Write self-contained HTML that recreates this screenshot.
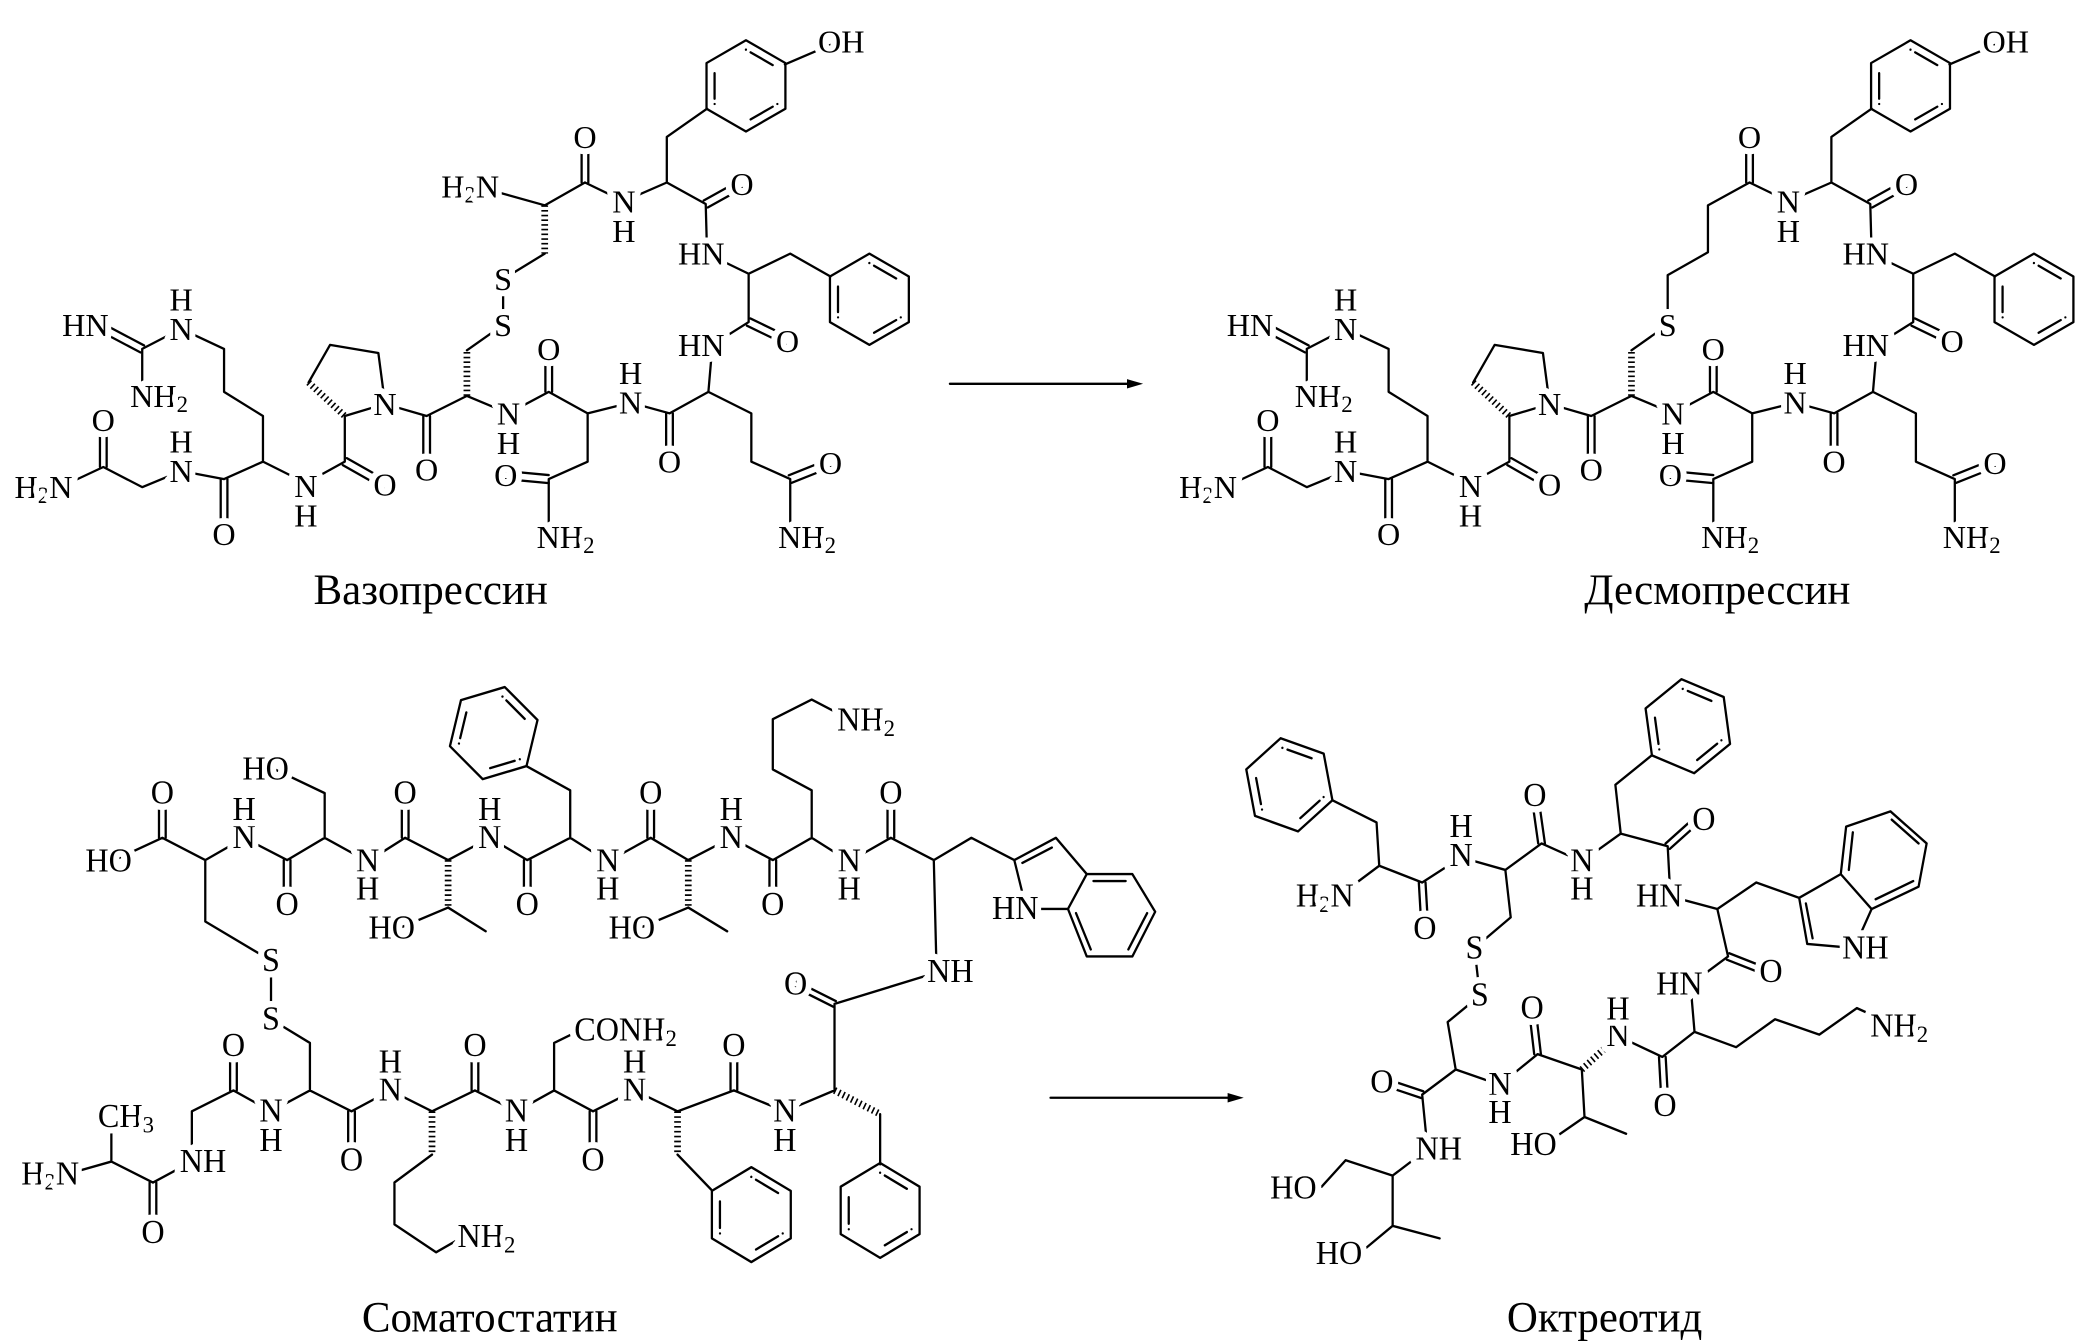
<!DOCTYPE html>
<html><head><meta charset="utf-8"><style>
html,body{margin:0;padding:0;background:#fff}
svg{display:block}
.b{stroke:#000;stroke-width:1.7;fill:none;stroke-linejoin:round;stroke-linecap:round}
.h{stroke:#000;stroke-width:5;stroke-dasharray:1.2 2.3;fill:none}
text{font-family:"Liberation Serif",serif;font-size:24px;fill:#000;text-anchor:middle;dominant-baseline:central;paint-order:stroke;stroke:#fff;stroke-width:9px;stroke-linejoin:round}
.e{text-anchor:end}.s{text-anchor:start}
.lbl{font-size:32px;stroke-width:0}
</style></head><body>
<svg width="2093" height="1342" viewBox="0 0 1560 1000" preserveAspectRatio="none" xmlns="http://www.w3.org/2000/svg">
<defs>
<g id="bz"><polygon points="0,-34 29.4,-17 29.4,17 0,34 -29.4,17 -29.4,-17"/><polygon points="0,-27 23.4,-13.5 23.4,13.5 0,27 -23.4,13.5 -23.4,-13.5" stroke-dasharray="0 4 19 31"/></g>
<g id="vc">
<g class="b">
<path d="M436,136 L465,150 L497,136 L497,102 L527,81 M585,48 L620,33 M497,136 L526,152 L527,189 L558,204 L589,189 L619,206 M558,204 L558,240 L531,257 L528,292 L560,308 L560,344 L589,357 L589,395 M528,292 L499,308 L470,300 L438,308 L438,344 L409,357 L409,395 M438,308 L409,292 L379,308 L348,295 L318,310 L287,301 M348,261 L375,242 M287,301 L282,263 L246,257 L230,285 M257,310 L287,301 M257,310 L257,344 L228,360 L196,344 L196,310 L167,292 L167,260 L135,245 L106,260 L106,290 M196,344 L167,357 L135,351 L106,363 L77,348 L45,363"/>
<path d="M433.5,136 L433.5,104 M438.5,136 L438.5,104 M524.5,149.4 L551.5,134.4 M527.5,154.6 L554.5,139.6 M556.7,242.7 L585.7,256.7 M559.3,237.3 L588.3,251.3 M590.1,359.8 L620.1,347.8 M587.9,354.2 L617.9,342.2 M496.5,308 L496.5,344 M501.5,308 L501.5,344 M409,354 L377,351 M409,360 L377,357 M406.5,292 L406.5,260 M411.5,292 L411.5,260 M315.5,310 L315.5,350 M320.5,310 L320.5,350 M255.5,346.6 L285.5,363.6 M258.5,341.4 L288.5,358.4 M107.4,257.4 L73.4,239.4 M104.6,262.6 L70.6,244.6 M164.5,357 L164.5,398 M169.5,357 L169.5,398 M74.5,348 L74.5,313 M79.5,348 L79.5,313"/>
<use href="#bz" transform="translate(556,64)"/>
<use href="#bz" transform="translate(648,223)"/>
</g>
<path class="h" d="M348,295 L348,261 M230,285 L257,310"/>
</g>
</defs>

<!-- Vasopressin -->
<use href="#vc"/>
<path class="b" d="M363,141 L406,153 L436,136 M406,189 L375,208 L375,242"/>
<path class="h" d="M406,153 L406,189"/>
<g>
<text x="627" y="31">OH</text>
<text x="436" y="102">O</text><text x="553" y="137">O</text><text x="587" y="254">O</text><text x="619" y="345">O</text><text x="499" y="344">O</text><text x="377" y="354">O</text><text x="409" y="260">O</text><text x="318" y="350">O</text><text x="287" y="361">O</text><text x="167" y="398">O</text><text x="77" y="313">O</text>
<text x="465" y="150">N</text><text x="465" y="172">H</text>
<text class="e" x="540" y="189">HN</text><text class="e" x="540" y="257">HN</text>
<text class="s" x="580" y="400">NH<tspan font-size="17" dy="6">2</tspan></text>
<text x="470" y="300">N</text><text x="470" y="278">H</text>
<text class="s" x="400" y="400">NH<tspan font-size="17" dy="6">2</tspan></text>
<text x="379" y="308">N</text><text x="379" y="330">H</text>
<text x="287" y="301">N</text>
<text x="228" y="362">N</text><text x="228" y="384">H</text>
<text x="135" y="245">N</text><text x="135" y="223">H</text>
<text class="e" x="81" y="242">HN</text>
<text class="s" x="97" y="295">NH<tspan font-size="17" dy="6">2</tspan></text>
<text x="135" y="351">N</text><text x="135" y="329">H</text>
<text class="e" x="54" y="363">H<tspan font-size="17" dy="6">2</tspan><tspan dy="-6">N</tspan></text>
<text x="375" y="242">S</text>
</g>
<text class="e" x="372" y="139">H<tspan font-size="17" dy="6">2</tspan><tspan dy="-6">N</tspan></text>
<text x="375" y="208">S</text>
<text class="lbl" x="321" y="440">Вазопрессин</text>

<!-- Desmopressin -->
<use href="#vc" transform="translate(868,0)"/>
<g transform="translate(868,0)">
<path class="b" d="M375,242 L375,205 L405,188 L405,153 L436,136"/>
<text x="627" y="31">OH</text>
<text x="436" y="102">O</text><text x="553" y="137">O</text><text x="587" y="254">O</text><text x="619" y="345">O</text><text x="499" y="344">O</text><text x="377" y="354">O</text><text x="409" y="260">O</text><text x="318" y="350">O</text><text x="287" y="361">O</text><text x="167" y="398">O</text><text x="77" y="313">O</text>
<text x="465" y="150">N</text><text x="465" y="172">H</text>
<text class="e" x="540" y="189">HN</text><text class="e" x="540" y="257">HN</text>
<text class="s" x="580" y="400">NH<tspan font-size="17" dy="6">2</tspan></text>
<text x="470" y="300">N</text><text x="470" y="278">H</text>
<text class="s" x="400" y="400">NH<tspan font-size="17" dy="6">2</tspan></text>
<text x="379" y="308">N</text><text x="379" y="330">H</text>
<text x="287" y="301">N</text>
<text x="228" y="362">N</text><text x="228" y="384">H</text>
<text x="135" y="245">N</text><text x="135" y="223">H</text>
<text class="e" x="81" y="242">HN</text>
<text class="s" x="97" y="295">NH<tspan font-size="17" dy="6">2</tspan></text>
<text x="135" y="351">N</text><text x="135" y="329">H</text>
<text class="e" x="54" y="363">H<tspan font-size="17" dy="6">2</tspan><tspan dy="-6">N</tspan></text>
<text x="375" y="242">S</text>
</g>
<text class="lbl" x="1280" y="440">Десмопрессин</text>

<!-- arrows -->
<path class="b" d="M708,286 L842,286 M783,818 L917,818"/>
<polygon points="852,286 840,282.5 840,289.5" fill="#000"/>
<polygon points="927,818 915,814.5 915,821.5" fill="#000"/>

<!-- Somatostatin -->
<g transform="matrix(1 0 0 1.04 0 -17.4)">
<g class="b">
<path d="M83,634 L121,617 L153,633 L182,617 L214,633 L242,617 L274,634 L302,617 L334,633 L365,617 L393,633 L425,617 L453,634 L485,617 L513,633 L545,617 L576,633 L605,617 L633,634 L664,617 L696,633 L724,617 L756,633 M242,617 L242,585 L205,568 M334,667 L297,682 M334,667 L362,684 M425,617 L425,583 L393,566 M513,667 L476,682 M513,667 L542,684 M605,617 L605,583 L576,568 L576,532 L605,518 L633,532 M756,633 L787,617 L810,643 L796,668 L765,668 L756,633 M810,643 L844,643 L861,670 L844,702 L810,702 L796,668 M696,633 L698,710 M700,713 L622,736 L622,798 M656,815 L656,851 M622,798 L585,813 L547,798 L505,813 L473,798 L442,813 L413,798 L385,813 L354,798 L322,813 L291,798 L262,813 L231,798 L202,813 L174,798 L143,813 L143,849 L114,864 L83,849 L50,858 M83,849 L83,826 M505,844 L530,869 M413,798 L413,764 L432,755 M322,844 L294,864 L294,894 L325,914 L345,903 M231,798 L231,764 L202,747 L202,705 L153,677 L153,633"/>
<path d="M118.5,617 L118.5,585 M123.5,617 L123.5,585 M211.5,633 L211.5,665 M216.5,633 L216.5,665 M299.5,617 L299.5,585 M304.5,617 L304.5,585 M390.5,633 L390.5,665 M395.5,633 L395.5,665 M482.5,617 L482.5,585 M487.5,617 L487.5,585 M573.5,633 L573.5,665 M578.5,633 L578.5,665 M661.5,617 L661.5,585 M666.5,617 L666.5,585 M762,635 L784,624 M815,648 L839,648 M855,671 L841,697 M813,697 L802,671 M623,734 L594,720 M621,738 L592,724 M544.5,798 L544.5,766 M549.5,798 L549.5,766 M439.5,813 L439.5,848 M444.5,813 L444.5,848 M351.5,798 L351.5,766 M356.5,798 L356.5,766 M259.5,813 L259.5,848 M264.5,813 L264.5,848 M171.5,798 L171.5,766 M176.5,798 L176.5,766 M111.5,864 L111.5,900 M116.5,864 L116.5,900"/>
<use href="#bz" transform="translate(368,542) rotate(14)"/>
<use href="#bz" transform="translate(656,884)"/>
<use href="#bz" transform="translate(560,887)"/>
</g>
<path class="h" d="M334,633 L334,667 M513,633 L513,667 M622,798 L656,815 M505,813 L505,844 M322,813 L322,844"/>
<text x="81" y="634">HO</text><text x="121" y="585">O</text>
<text x="182" y="617">N</text><text x="182" y="597">H</text>
<text x="214" y="665">O</text><text x="198" y="568">HO</text>
<text x="274" y="634">N</text><text x="274" y="654">H</text>
<text x="302" y="585">O</text>
<text x="365" y="617">N</text><text x="365" y="597">H</text>
<text x="292" y="682">HO</text><text x="393" y="665">O</text>
<text x="453" y="634">N</text><text x="453" y="654">H</text>
<text x="485" y="585">O</text>
<text x="545" y="617">N</text><text x="545" y="597">H</text>
<text x="471" y="682">HO</text><text x="576" y="665">O</text>
<text x="633" y="634">N</text><text x="633" y="654">H</text>
<text x="664" y="585">O</text>
<text class="s" x="624" y="533">NH<tspan font-size="17" dy="6">2</tspan></text>
<text class="e" x="774" y="668">HN</text>
<text class="s" x="691" y="713">NH</text>
<text x="593" y="722">O</text>
<text x="585" y="813">N</text><text x="585" y="834">H</text>
<text x="547" y="766">O</text>
<text x="473" y="798">N</text><text x="473" y="778">H</text>
<text x="442" y="848">O</text>
<text class="s" x="428" y="755">CONH<tspan font-size="17" dy="6">2</tspan></text>
<text x="385" y="813">N</text><text x="385" y="834">H</text>
<text x="354" y="766">O</text>
<text class="s" x="341" y="903">NH<tspan font-size="17" dy="6">2</tspan></text>
<text x="291" y="798">N</text><text x="291" y="778">H</text>
<text x="262" y="848">O</text>
<text x="202" y="747">S</text><text x="202" y="705">S</text>
<text x="202" y="813">N</text><text x="202" y="834">H</text>
<text x="174" y="766">O</text>
<text class="s" x="134" y="849">NH</text>
<text x="114" y="900">O</text>
<text class="s" x="73" y="817">CH<tspan font-size="17" dy="6">3</tspan></text>
<text class="e" x="59" y="858">H<tspan font-size="17" dy="6">2</tspan><tspan dy="-6">N</tspan></text>
</g>
<text class="lbl" x="365" y="982">Соматостатин</text>

<!-- Octreotide -->
<g transform="matrix(1 0 0 1.04 0 -18.4)">
<g class="b">
<path d="M993,591 L1026,607 L1028,638 L1060,650 L1089,632 L1122,641 L1149,622 L1179,635 L1208,615 L1243,624 L1245,660 L1280,669 L1288,703 L1260,723 L1263,757 L1239,775 L1206,760 M1179,784 L1146,773 L1118,795 L1085,784 L1060,802 L1064,841 L1038,860 L1003,849 L985,868 M1038,860 L1038,896 L1013,916 M1038,896 L1073,905 M1028,638 L1003,656 M1122,641 L1126,675 L1099,697 L1103,731 L1079,750 L1085,784 M1208,615 L1204,580 L1231,559 M1280,669 L1309,650 L1341,661 L1347,694 L1382,697 L1395,669 L1372,644 L1341,661 M1372,644 L1376,610 L1409,599 L1436,622 L1430,653 L1395,669 M1263,757 L1294,768 L1323,748 L1356,759 L1384,740 L1400,747 M1179,784 L1181,818 L1160,832 M1181,818 L1212,830"/>
<path d="M1057.5,650 L1059.5,683 M1062.5,650 L1064.5,683 M1146.5,622 L1141.5,588 M1151.5,622 L1146.5,588 M1244.6,625.9 L1266.6,606.9 M1241.4,622.1 L1263.4,603.1 M1287.1,705.3 L1316.1,716.3 M1288.9,700.7 L1317.9,711.7 M1236.5,775 L1238.5,810 M1241.5,775 L1243.5,810 M1143.5,773 L1139.5,740 M1148.5,773 L1144.5,740 M1060.8,799.6 L1032.8,790.6 M1059.2,804.4 L1031.2,795.4 M1346,665 L1351,690 M1378,641 L1381,614 M1410,605 L1430,622 M1426,649 L1398,662"/>
<use href="#bz" transform="translate(961,580) rotate(-11)"/>
<use href="#bz" transform="translate(1258,538) rotate(-8)"/>
</g>
<path class="h" d="M1206,760 L1179,784"/>
<text class="e" x="1009" y="660">H<tspan font-size="17" dy="6">2</tspan><tspan dy="-6">N</tspan></text>
<text x="1062" y="683">O</text>
<text x="1089" y="631">N</text><text x="1089" y="610">H</text>
<text x="1144" y="588">O</text>
<text x="1179" y="635">N</text><text x="1179" y="655">H</text>
<text x="1270" y="605">O</text>
<text class="e" x="1254" y="660">HN</text>
<text class="s" x="1373" y="697">NH</text>
<text x="1320" y="714">O</text>
<text class="e" x="1269" y="723">HN</text>
<text class="s" x="1394" y="753">NH<tspan font-size="17" dy="6">2</tspan></text>
<text x="1241" y="810">O</text>
<text x="1206" y="760">N</text><text x="1206" y="741">H</text>
<text x="1143" y="838">HO</text>
<text x="1142" y="740">O</text>
<text x="1118" y="795">N</text><text x="1118" y="815">H</text>
<text x="1099" y="697">S</text><text x="1103" y="731">S</text>
<text x="1030" y="793">O</text>
<text class="s" x="1055" y="841">NH</text>
<text x="964" y="869">HO</text>
<text x="998" y="916">HO</text>
</g>
<text class="lbl" x="1196" y="982">Октреотид</text>
</svg>
</body></html>
